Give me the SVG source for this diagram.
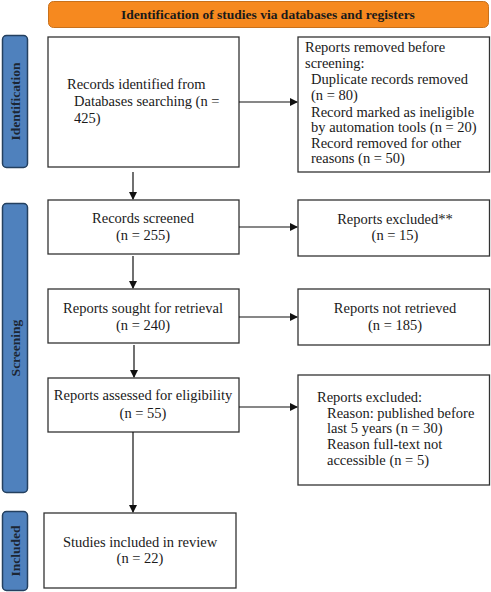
<svg xmlns="http://www.w3.org/2000/svg" width="491" height="592" viewBox="0 0 491 592">
<style>
text{font-family:"Liberation Serif","Times New Roman",serif;font-size:14.5px;fill:#1a1a1a}
.box{fill:#fff;stroke:#333;stroke-width:1.3}
.side{fill:#4f81bd;stroke:#24405f;stroke-width:1.5}
.st{font-size:13.5px;font-weight:bold;fill:#1c2633;text-anchor:middle}
.hd{font-size:13.5px;font-weight:bold;fill:#1a1a1a;text-anchor:middle}
.c{text-anchor:middle}
.line{stroke:#111;stroke-width:1.2;fill:none}
</style>
<defs>
<marker id="ah" markerWidth="8" markerHeight="8" refX="7" refY="4" orient="auto" markerUnits="userSpaceOnUse">
<path d="M0,0 L8,4 L0,8 Z" fill="#111"/>
</marker>
</defs>
<rect width="491" height="592" fill="#fff"/>
<g id="header">
<rect x="48.5" y="1.5" width="440" height="26" rx="5" fill="#f6891f" stroke="#c8711c" stroke-width="1"/>
<text class="hd" x="268" y="19">Identification of studies via databases and registers</text>
</g>
<g id="side-identification">
<rect class="side" x="2.5" y="35.5" width="25" height="132" rx="4"/>
<text class="st" transform="translate(20,101.5) rotate(-90)">Identification</text>
</g>
<g id="side-screening">
<rect class="side" x="2.5" y="203.5" width="25" height="289" rx="4"/>
<text class="st" transform="translate(20,348) rotate(-90)">Screening</text>
</g>
<g id="side-included">
<rect class="side" x="2.5" y="511.5" width="25" height="79" rx="4"/>
<text class="st" transform="translate(20,551) rotate(-90)">Included</text>
</g>
<g id="records-identified">
<rect class="box" x="48" y="37" width="191" height="130"/>
<text x="67" y="89">Records identified from</text>
<text x="74" y="106">Databases searching (n =</text>
<text x="74" y="123">425)</text>
</g>
<g id="removed-before">
<rect class="box" x="298" y="37" width="191.5" height="135"/>
<text x="305" y="52">Reports removed before</text>
<text x="305" y="68">screening:</text>
<text x="311" y="84">Duplicate records removed</text>
<text x="311" y="100">(n = 80)</text>
<text x="311" y="117">Record marked as ineligible</text>
<text x="311" y="132">by automation tools (n = 20)</text>
<text x="311" y="148">Record removed for other</text>
<text x="311" y="163">reasons (n = 50)</text>
</g>
<g id="records-screened">
<rect class="box" x="48" y="200" width="191" height="54"/>
<text class="c" x="143" y="223">Records screened</text>
<text class="c" x="143" y="240">(n = 255)</text>
</g>
<g id="reports-excluded-1">
<rect class="box" x="298" y="200" width="191.5" height="56"/>
<text class="c" x="395" y="224">Reports excluded**</text>
<text class="c" x="395" y="240">(n = 15)</text>
</g>
<g id="reports-sought">
<rect class="box" x="48" y="289" width="191" height="54"/>
<text class="c" x="143" y="313">Reports sought for retrieval</text>
<text class="c" x="143" y="330">(n = 240)</text>
</g>
<g id="not-retrieved">
<rect class="box" x="298" y="289" width="191.5" height="56"/>
<text class="c" x="395" y="313">Reports not retrieved</text>
<text class="c" x="395" y="330">(n = 185)</text>
</g>
<g id="reports-assessed">
<rect class="box" x="48" y="378" width="191" height="54"/>
<text class="c" x="143" y="400">Reports assessed for eligibility</text>
<text class="c" x="143" y="418">(n = 55)</text>
</g>
<g id="reports-excluded-2">
<rect class="box" x="298" y="375" width="191.5" height="110"/>
<text x="317" y="402">Reports excluded:</text>
<text x="327" y="418">Reason: published before</text>
<text x="327" y="433">last 5 years (n = 30)</text>
<text x="327" y="449">Reason full-text not</text>
<text x="327" y="465">accessible (n = 5)</text>
</g>
<g id="studies-included">
<rect class="box" x="44" y="513" width="192" height="75"/>
<text class="c" x="140" y="547">Studies included in review</text>
<text class="c" x="140" y="563">(n = 22)</text>
</g>
<g id="connectors">
<line class="line" x1="239" y1="102" x2="297" y2="102" marker-end="url(#ah)"/>
<line class="line" x1="133" y1="172" x2="133" y2="199" marker-end="url(#ah)"/>
<line class="line" x1="239" y1="227" x2="297" y2="227" marker-end="url(#ah)"/>
<line class="line" x1="133" y1="256" x2="133" y2="288" marker-end="url(#ah)"/>
<line class="line" x1="239" y1="317" x2="297" y2="317" marker-end="url(#ah)"/>
<line class="line" x1="134" y1="345" x2="134" y2="377" marker-end="url(#ah)"/>
<line class="line" x1="239" y1="407" x2="297" y2="407" marker-end="url(#ah)"/>
<line class="line" x1="133" y1="432" x2="133" y2="512" marker-end="url(#ah)"/>
</g>
</svg>
